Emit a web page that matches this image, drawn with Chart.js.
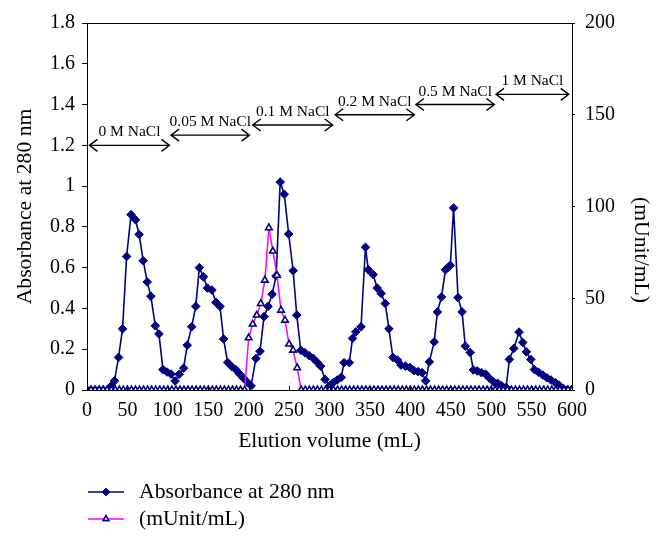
<!DOCTYPE html>
<html>
<head>
<meta charset="utf-8">
<script src="https://cdn.jsdelivr.net/npm/chart.js@4.4.1/dist/chart.umd.min.js"></script>
<style>
  html, body { margin: 0; padding: 0; background: #fff; }
  #wrap { width: 666px; height: 541px; position: relative; }
</style>
</head>
<body>
<div id="wrap"><canvas id="elutionChart"></canvas></div>
<script>
// Absorbance at 280 nm (left axis)
const absVolume = [
  0, 5, 10, 15, 20, 25, 30, 34, 39, 44, 49, 54.5, 60, 64.5, 69.5, 74.5, 79, 84.5, 89, 94,
  99, 104, 109, 114, 119.5, 124, 129.5, 134.5, 139, 144, 149, 154.5, 159.5, 164.5, 169, 174, 179, 184, 188.5, 193,
  198, 203, 209, 214, 219, 224, 229, 234, 239, 244, 249.5, 255, 259.5, 264.5, 269.5, 275, 280, 284.5, 289, 294.5,
  300, 304.5, 309.5, 314.5, 318, 324.5, 328.5, 332.5, 339, 344.5, 348, 354, 359, 364, 369, 373.5, 378.5, 384, 388.5, 394,
  399.5, 404.5, 409.5, 414.5, 419, 423.5, 429.5, 433.5, 438.5, 443.5, 447, 449.5, 453.5, 459, 464, 468, 474, 478, 483, 488,
  493, 498, 503, 508, 513, 518.5, 522.5, 528, 534.5, 539, 543.5, 549, 553.5, 558.5, 564, 569, 574, 579.5, 584, 589,
  594, 599
];
const absorbance = [
  0, 0, 0, 0, 0, 0, 0.02, 0.045, 0.16, 0.30, 0.655, 0.86, 0.835, 0.763, 0.634, 0.53, 0.46, 0.315, 0.275, 0.10,
  0.088, 0.078, 0.044, 0.077, 0.107, 0.22, 0.31, 0.41, 0.60, 0.555, 0.50, 0.49, 0.43, 0.41, 0.25, 0.135, 0.115, 0.10, 0.08, 0.06,
  0.04, 0.02, 0.155, 0.19, 0.36, 0.41, 0.47, 0.56, 1.02, 0.96, 0.765, 0.585, 0.367, 0.195, 0.183, 0.168, 0.155, 0.137, 0.117, 0.052,
  0.02, 0.036, 0.049, 0.062, 0.134, 0.134, 0.253, 0.285, 0.31, 0.70, 0.59, 0.566, 0.50, 0.473, 0.424, 0.30, 0.16, 0.147, 0.122, 0.117,
  0.11, 0.095, 0.09, 0.085, 0.045, 0.138, 0.236, 0.383, 0.456, 0.59, 0.603, 0.611, 0.893, 0.453, 0.383, 0.215, 0.184, 0.098, 0.093, 0.085,
  0.078, 0.057, 0.04, 0.033, 0.021, 0.013, 0.15, 0.204, 0.284, 0.233, 0.187, 0.15, 0.10, 0.087, 0.073, 0.06, 0.049, 0.036, 0.024, 0.008,
  0, 0
];

// enzyme activity (mUnit/mL, right axis), every 5 mL
const actVolume = [
  0, 5, 10, 15, 20, 25, 30, 35, 40, 45, 50, 55, 60, 65, 70, 75, 80, 85, 90, 95,
  100, 105, 110, 115, 120, 125, 130, 135, 140, 145, 150, 155, 160, 165, 170, 175, 180, 185, 190, 195,
  200, 205, 210, 215, 220, 225, 230, 235, 240, 245, 250, 255, 260, 265, 270, 275, 280, 285, 290, 295,
  300, 305, 310, 315, 320, 325, 330, 335, 340, 345, 350, 355, 360, 365, 370, 375, 380, 385, 390, 395,
  400, 405, 410, 415, 420, 425, 430, 435, 440, 445, 450, 455, 460, 465, 470, 475, 480, 485, 490, 495,
  500, 505, 510, 515, 520, 525, 530, 535, 540, 545, 550, 555, 560, 565, 570, 575, 580, 585, 590, 595,
  600
];
const activity = [
  0, 0, 0, 0, 0, 0, 0, 0, 0, 0, 0, 0, 0, 0, 0, 0, 0, 0, 0, 0,
  0, 0, 0, 0, 0, 0, 0, 0, 0, 0, 0, 0, 0, 0, 0, 0, 0, 0, 0, 0,
  28.4, 35.9, 40.8, 47.1, 59.8, 88.4, 75.7, 62.5, 43.5, 38.0, 25.0, 21.7, 12.1, 0, 0, 0, 0, 0, 0, 0,
  0, 0, 0, 0, 0, 0, 0, 0, 0, 0, 0, 0, 0, 0, 0, 0, 0, 0, 0, 0,
  0, 0, 0, 0, 0, 0, 0, 0, 0, 0, 0, 0, 0, 0, 0, 0, 0, 0, 0, 0,
  0, 0, 0, 0, 0, 0, 0, 0, 0, 0, 0, 0, 0, 0, 0, 0, 0, 0, 0, 0,
  0
];

// NaCl step gradient arrows (mL range, drawn at an absorbance level)
const saltLabels = ['0 M NaCl', '0.05 M NaCl', '0.1 M NaCl', '0.2 M NaCl', '0.5 M NaCl', '1 M NaCl'];
const saltFrom = [3, 104, 205, 307, 407, 506];
const saltTo = [102, 201, 304, 405, 504, 596];
const saltLevel = [1.2, 1.25, 1.3, 1.35, 1.4, 1.45];

const serif = '"Liberation Serif", "Times New Roman", serif';
Chart.defaults.font.family = serif;
Chart.defaults.color = '#000';

const navy = '#000080';
const magenta = '#ff00ff';

const toPoints = (xs, ys) => xs.map((v, i) => ({ x: v, y: ys[i] }));

// top frame line, inward ticks on the x axis, right-hand title
const frameTicks = {
  id: 'frameTicks',
  afterDraw(chart) {
    const { ctx, chartArea: a, scales: { x } } = chart;
    ctx.save();
    ctx.strokeStyle = '#000';
    ctx.lineWidth = 1;
    ctx.beginPath();
    ctx.moveTo(a.left, Math.round(a.top) + 0.5);
    ctx.lineTo(a.right, Math.round(a.top) + 0.5);
    x.ticks.forEach(t => {
      const px = Math.round(x.getPixelForValue(t.value)) + 0.5;
      ctx.moveTo(px, a.bottom);
      ctx.lineTo(px, a.bottom - 4);
    });
    ctx.stroke();

    ctx.translate(641, 250);
    ctx.rotate(Math.PI / 2);
    ctx.fillStyle = '#000';
    ctx.font = '21.7px ' + serif;
    ctx.textAlign = 'center';
    ctx.textBaseline = 'middle';
    ctx.fillText('(mUnit/mL)', 0, 0);
    ctx.restore();
  }
};

const saltArrows = {
  id: 'saltArrows',
  afterDatasetsDraw(chart) {
    const { ctx, scales: { x, y } } = chart;
    ctx.save();
    ctx.strokeStyle = '#000';
    ctx.fillStyle = '#000';
    ctx.lineWidth = 1.4;
    ctx.font = '15.5px ' + serif;
    ctx.textAlign = 'center';
    ctx.textBaseline = 'alphabetic';
    saltLabels.forEach((label, i) => {
      const x1 = x.getPixelForValue(saltFrom[i]);
      const x2 = x.getPixelForValue(saltTo[i]);
      const yy = y.getPixelForValue(saltLevel[i]);
      ctx.beginPath();
      ctx.moveTo(x1, yy);
      ctx.lineTo(x2, yy);
      ctx.moveTo(x1 + 8, yy - 6);
      ctx.lineTo(x1, yy);
      ctx.lineTo(x1 + 8, yy + 6);
      ctx.moveTo(x2 - 8, yy - 6);
      ctx.lineTo(x2, yy);
      ctx.lineTo(x2 - 8, yy + 6);
      ctx.stroke();
      ctx.fillText(label, (x1 + x2) / 2, yy - 9);
    });
    ctx.restore();
  }
};

// two stacked legend rows under the plot
const stackedLegend = {
  id: 'stackedLegend',
  afterDraw(chart) {
    const { ctx } = chart;
    const rows = [
      { ds: chart.data.datasets[0], y: 492 },
      { ds: chart.data.datasets[1], y: 519 }
    ];
    ctx.save();
    rows.forEach(r => {
      ctx.strokeStyle = r.ds.borderColor;
      ctx.lineWidth = r.ds.borderWidth;
      ctx.beginPath();
      ctx.moveTo(88, r.y);
      ctx.lineTo(124, r.y);
      ctx.stroke();
      ctx.fillStyle = r.ds.pointBackgroundColor;
      ctx.strokeStyle = r.ds.pointBorderColor;
      ctx.lineWidth = r.ds.pointBorderWidth;
      Chart.helpers.drawPoint(ctx, {
        pointStyle: r.ds.pointStyle,
        radius: r.ds.pointRadius - 0.5,
        borderWidth: r.ds.pointBorderWidth
      }, 106, r.y);
      ctx.fillStyle = '#000';
      ctx.font = '21.7px ' + serif;
      ctx.textAlign = 'left';
      ctx.textBaseline = 'middle';
      ctx.fillText(r.ds.label, 139, r.y);
    });
    ctx.restore();
  }
};

const data = {
  datasets: [
    {
      label: 'Absorbance at 280 nm',
      data: toPoints(absVolume, absorbance),
      yAxisID: 'y',
      borderColor: navy,
      borderWidth: 1.6,
      pointStyle: 'rectRot',
      pointRadius: 4.3,
      pointBackgroundColor: navy,
      pointBorderColor: navy,
      pointBorderWidth: 1,
      order: 2
    },
    {
      label: '(mUnit/mL)',
      data: toPoints(actVolume, activity),
      yAxisID: 'y2',
      borderColor: magenta,
      borderWidth: 1.5,
      pointStyle: 'triangle',
      pointRadius: 3.8,
      pointBackgroundColor: '#fff',
      pointBorderColor: navy,
      pointBorderWidth: 1.6,
      order: 1
    }
  ]
};

const config = {
  type: 'line',
  data: data,
  options: {
    responsive: true,
    maintainAspectRatio: false,
    animation: false,
    layout: { padding: { left: 0, right: 0, top: 23, bottom: 87 } },
    plugins: {
      legend: { display: false },
      tooltip: { enabled: false }
    },
    scales: {
      x: {
        type: 'linear',
        min: 0,
        max: 600,
        ticks: { stepSize: 50, padding: 9, font: { size: 20 }, color: '#000', maxRotation: 0, autoSkip: false },
        grid: { display: false, drawTicks: false },
        border: { display: true, color: '#000', width: 1 },
        title: { display: true, text: 'Elution volume (mL)', font: { size: 21.5 }, color: '#000', padding: 0 },
        afterFit: s => { s.height = 64; }
      },
      y: {
        position: 'left',
        min: 0,
        max: 1.8,
        ticks: {
          stepSize: 0.2, padding: 7, font: { size: 20 }, color: '#000',
          callback: v => String(Math.round(v * 10) / 10)
        },
        grid: { display: true, drawOnChartArea: false, drawTicks: true, tickLength: 5, color: '#000' },
        border: { display: true, color: '#000', width: 1 },
        title: { display: true, text: 'Absorbance at 280 nm', font: { size: 21.7 }, color: '#000', padding: { top: 12, bottom: 0 } },
        afterFit: s => { s.width = 87; }
      },
      y2: {
        position: 'right',
        min: 0,
        max: 200,
        ticks: { stepSize: 50, padding: 10, font: { size: 20 }, color: '#000' },
        grid: { display: true, drawOnChartArea: false, drawTicks: true, tickLength: 3, color: '#000' },
        border: { display: true, color: '#000', width: 1 },
        title: { display: false },
        afterFit: s => { s.width = 94; }
      }
    }
  },
  plugins: [frameTicks, saltArrows, stackedLegend]
};

window.addEventListener('DOMContentLoaded', () => {
  const ctx = document.getElementById('elutionChart');
  new Chart(ctx, config);
});
</script>
</body>
</html>
